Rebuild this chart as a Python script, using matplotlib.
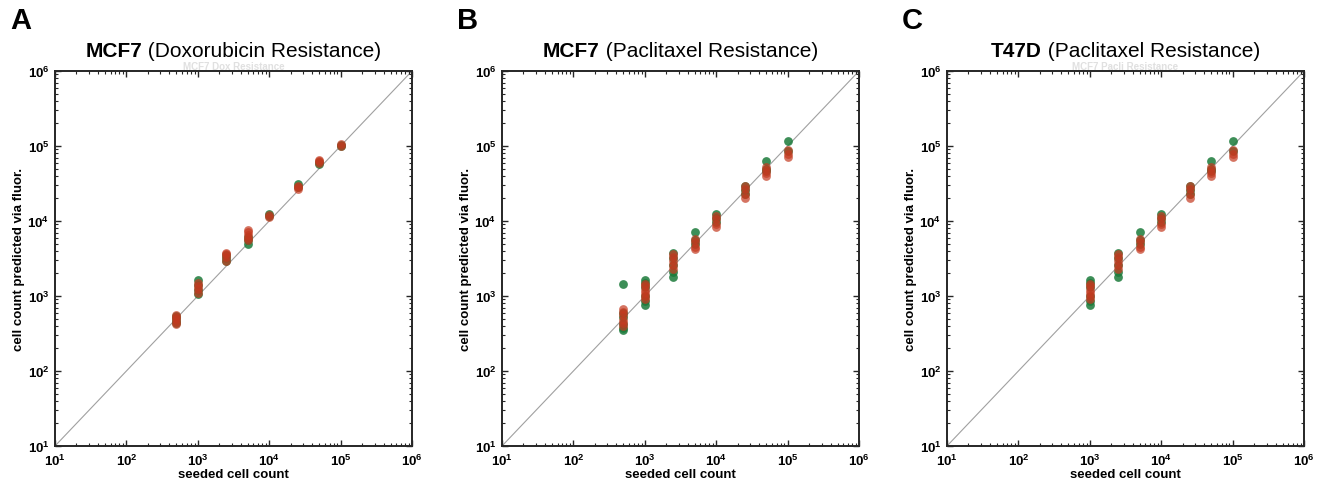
import matplotlib
matplotlib.use("Agg")
import matplotlib.pyplot as plt
from matplotlib.offsetbox import TextArea, HPacker, AnchoredOffsetbox
from matplotlib.ticker import LogLocator, NullFormatter

plt.rcParams["font.family"] = ["Liberation Sans", "DejaVu Sans"]

# seeded cell counts per panel
SEEDED_A = [500, 1000, 2500, 5000, 10000, 25000, 50000, 100000]
SEEDED_B = [500, 1000, 2500, 5000, 10000, 25000, 50000, 100000]
SEEDED_C = [1000, 2500, 5000, 10000, 25000, 50000, 100000]

# predicted counts (green series / red series), one list per seeded count
GREEN_A = [[430, 470, 510, 540], [1050, 1200, 1400, 1650], [2900, 3200, 3500],
           [4900, 5600, 6200], [11500, 12500], [28000, 31000],
           [58000, 62000], [100000, 104000]]
RED_A = [[420, 450, 490, 530, 560], [1100, 1250, 1350, 1500], [2950, 3300, 3600, 3800],
         [5600, 6000, 6600, 7100, 7600], [11300, 12000], [27000, 28500, 29500],
         [60000, 63000, 65000], [101000, 106000]]

GREEN_B = [[1450, 350, 380, 420, 520, 600], [770, 850, 1000, 1300, 1500, 1650],
           [1800, 2100, 2600, 3200, 3800], [5000, 5500, 7200], [9800, 11000, 12500],
           [23000, 26000, 29000], [46000, 50000, 63000], [85000, 115000]]
RED_B = [[400, 440, 480, 560, 620, 680], [900, 1000, 1100, 1200, 1350, 1450],
         [2300, 2600, 2900, 3300, 3600], [4200, 4500, 5200, 5800], [8300, 9000, 10500, 11500],
         [20500, 23000, 26500, 29000], [40000, 43000, 48000, 52000], [72000, 78000, 88000]]

GREEN_C = [[770, 850, 1000, 1300, 1500, 1650], [1800, 2100, 2600, 3200, 3800],
           [5000, 5500, 7200], [9800, 11000, 12500], [23000, 26000, 29000],
           [46000, 50000, 63000], [85000, 115000]]
RED_C = [[900, 1000, 1100, 1200, 1350, 1450], [2300, 2600, 2900, 3300, 3600],
         [4200, 4500, 5200, 5800], [8300, 9000, 10500, 11500], [20500, 23000, 26500, 29000],
         [40000, 43000, 48000, 52000], [72000, 78000, 88000]]

PANELS = [
    ("A", "MCF7", " (Doxorubicin Resistance)", "MCF7 Dox Resistance", SEEDED_A, GREEN_A, RED_A),
    ("B", "MCF7", " (Paclitaxel Resistance)", None, SEEDED_B, GREEN_B, RED_B),
    ("C", "T47D", " (Paclitaxel Resistance)", "MCF7 Pacli Resistance", SEEDED_C, GREEN_C, RED_C),
]

GREEN = "#1b7a3a"
RED = "#c4391f"
W, H = 1322, 489
LEFTS = [55, 502, 947]
AX_W, TOP, BOTTOM = 357, 72, 447

fig = plt.figure(figsize=(W / 100, H / 100), dpi=100)

for (letter, bold, rest, ghost, seeded, green, red), left in zip(PANELS, LEFTS):
    ax = fig.add_axes([left / W, 1 - BOTTOM / H, AX_W / W, (BOTTOM - TOP) / H])
    ax.set_xscale("log")
    ax.set_yscale("log")
    ax.set_xlim(10, 1e6)
    ax.set_ylim(10, 1e6)
    ax.plot([10, 1e6], [10, 1e6], color="#a0a0a0", lw=0.8, zorder=1)

    for x, ys in zip(seeded, green):
        ax.scatter([x] * len(ys), ys, s=40, color=GREEN, alpha=0.85, lw=0, zorder=2)
    for x, ys in zip(seeded, red):
        ax.scatter([x] * len(ys), ys, s=40, color=RED, alpha=0.7, lw=0, zorder=3)

    for sp in ax.spines.values():
        sp.set_linewidth(1.4)
        sp.set_color("#262626")
    ax.xaxis.set_major_locator(LogLocator(base=10, numticks=10))
    ax.yaxis.set_major_locator(LogLocator(base=10, numticks=10))
    ax.xaxis.set_minor_locator(LogLocator(base=10, subs=range(2, 10), numticks=10))
    ax.yaxis.set_minor_locator(LogLocator(base=10, subs=range(2, 10), numticks=10))
    ax.xaxis.set_minor_formatter(NullFormatter())
    ax.yaxis.set_minor_formatter(NullFormatter())
    ax.tick_params(which="both", direction="in", top=True, right=True,
                   color="#262626", labelsize=9.5)
    ax.tick_params(axis="x", which="major", pad=5)
    ax.tick_params(axis="y", which="major", pad=4)
    ax.tick_params(which="major", length=4, width=1.0)
    ax.tick_params(which="minor", length=2.5, width=0.8)
    for lab in ax.get_xticklabels() + ax.get_yticklabels():
        lab.set_fontweight("bold")

    ax.set_xlabel("seeded cell count", fontsize=9.5, fontweight="bold", labelpad=0)
    ax.set_ylabel("cell count predicted via fluor.", fontsize=9.5, fontweight="bold", labelpad=2)

    title = HPacker(children=[
        TextArea(bold, textprops=dict(fontsize=15, fontweight="bold")),
        TextArea(rest, textprops=dict(fontsize=15)),
    ], align="baseline", pad=0, sep=0)
    box = AnchoredOffsetbox(loc="lower center", child=title, pad=0, frameon=False,
                            bbox_to_anchor=(0.5, 1.03), bbox_transform=ax.transAxes,
                            borderpad=0)
    ax.add_artist(box)

    if ghost:
        ax.text(0.5, 1.0, ghost, transform=ax.transAxes, ha="center", va="bottom",
                fontsize=7, fontweight="bold", color="#e0e0e0")

    fig.text((left - 45) / W, 1 - 21 / H, letter, fontsize=21, fontweight="bold",
             va="center", ha="left")

fig.savefig("out.png", dpi=100)
